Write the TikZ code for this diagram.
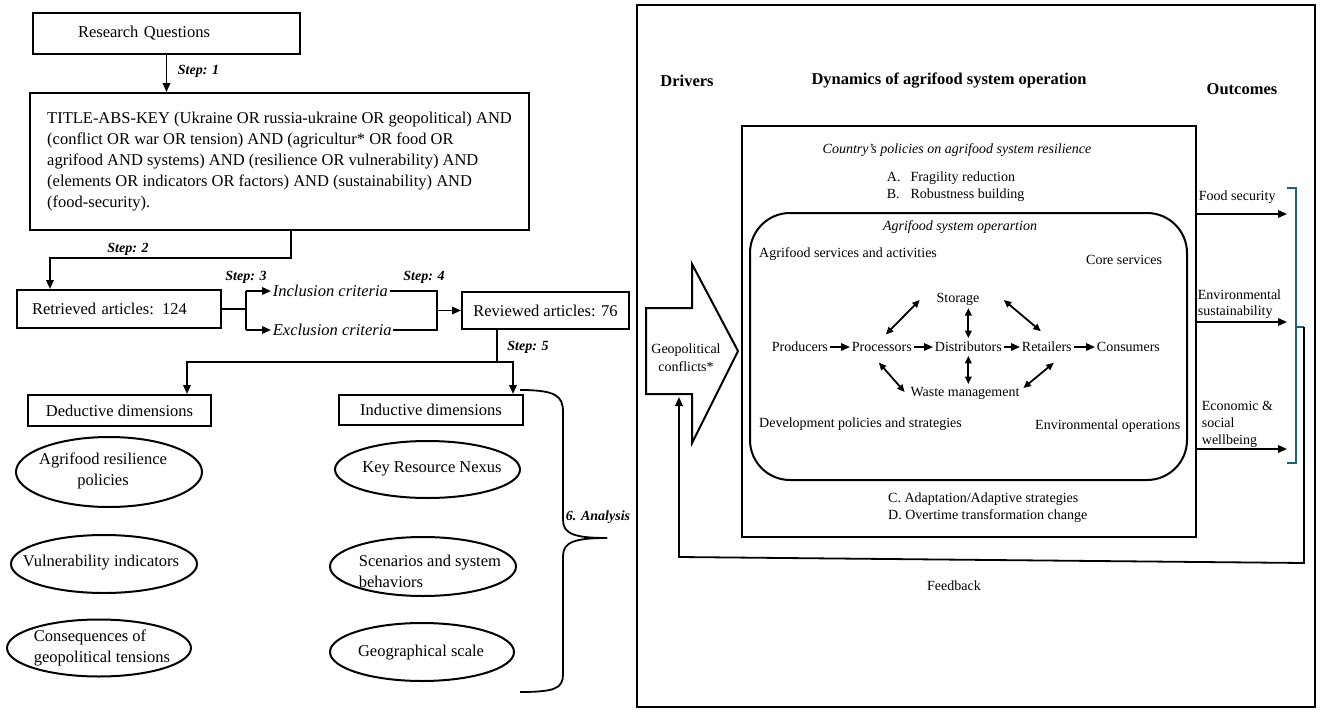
\documentclass[tikz,border=0pt]{standalone}
\usepackage{fontspec}
\setmainfont{Liberation Serif}
\usetikzlibrary{arrows.meta,shapes.geometric,calc}
\definecolor{brk}{RGB}{31,95,130}
\begin{document}
\begin{tikzpicture}[x=1pt,y=-1pt,
  line width=1.8pt,
  arr/.style={-{Triangle[length=9pt,width=7.5pt]}},
  darr/.style={{Triangle[length=7.5pt,width=6.5pt]}-{Triangle[length=7.5pt,width=6.5pt]}},
  box/.style={draw, line width=2pt, inner sep=0pt},
  big/.style={font=\fontsize{16.5}{21}\selectfont},
  crit/.style={font=\fontsize{16.5}{21}\selectfont\itshape, inner sep=1pt, anchor=west},
  sm/.style={font=\fontsize{14}{17}\selectfont},
  smi/.style={font=\fontsize{14}{17}\selectfont\itshape},
  head/.style={font=\fontsize{16.5}{20}\selectfont\bfseries},
  steplbl/.style={font=\fontsize{14}{17}\selectfont\bfseries\itshape, inner sep=1pt},
  ell/.style={draw, ellipse, line width=2pt, inner sep=0pt},
  txt/.style={inner sep=1pt},
]
\useasboundingbox (0,0) rectangle (1325,717);

% ---------------- left flow ----------------
\node[box, big, minimum width=267pt, minimum height=41pt, text width=177pt, inner xsep=45pt, align=left] (rq) at (166.5,33.5) {Research Questions};

\node[box, big, minimum width=499pt, minimum height=137pt, align=left] (title) at (279.5,161.5)
{TITLE-ABS-KEY (Ukraine OR russia-ukraine OR geopolitical) AND\\
(conflict OR war OR tension) AND (agricultur* OR food OR\\
agrifood AND systems) AND (resilience OR vulnerability) AND\\
(elements OR indicators OR factors) AND (sustainability) AND\\
(food-security).};

\draw[arr] (rq.south) -- (rq.south |- title.north);
\node[steplbl, anchor=west] at (176,71) {Step: 1};

\node[box, big, minimum width=204pt, minimum height=38pt, text width=174pt, inner xsep=15pt, align=left] (ret) at (119,309) {Retrieved articles: 124};

\coordinate (s2) at (291,258);
\coordinate (s2b) at (50,258);
\draw[arr] (s2 |- title.south) -- (s2) -- (s2b) -- (s2b |- ret.north);
\node[steplbl] at (128,249) {Step: 2};

\node[crit] (inc) at (271,291) {Inclusion criteria};
\node[crit] (exc) at (271,330) {Exclusion criteria};
\coordinate (j3) at (246,309);
\draw (ret.east) -- (j3);
\draw (j3 |- inc.west) -- (j3 |- exc.west);
\draw[arr] (j3 |- inc.west) -- (inc.west);
\draw[arr] (j3 |- exc.west) -- (exc.west);
\node[steplbl] at (246,277) {Step: 3};

\node[box, big, minimum width=167pt, minimum height=37pt] (rev) at (545.5,310.5) {Reviewed articles: 76};
\coordinate (j4) at (437,310.5);
\draw (inc.east) -| (j4);
\draw (exc.east) -| (j4);
\draw[arr] (j4) -- (rev.west);
\node[steplbl] at (424,277) {Step: 4};

\node[box, big, minimum width=183pt, minimum height=31pt] (ded) at (119.5,410.5) {Deductive dimensions};
\node[box, big, minimum width=184pt, minimum height=30pt] (ind) at (431,410) {Inductive dimensions};

\coordinate (j5) at (497,362);
\coordinate (c5l) at (187,362);
\coordinate (c5r) at (513,362);
\draw (j5 |- rev.south) -- (j5);
\draw[arr] (j5) -- (c5l) -- (c5l |- ded.north);
\draw[arr] (j5) -- (c5r) -- (c5r |- ind.north);
\node[steplbl] at (528,347) {Step: 5};

% ellipses
\node[ell, minimum width=186pt, minimum height=70pt] (e1) at (109,472) {};
\node[big, align=center, txt] at (103,470.5) {Agrifood resilience\\policies};
\node[ell, minimum width=186pt, minimum height=58pt] (e2) at (104,564) {};
\node[big, txt] at (101,563) {Vulnerability indicators};
\node[ell, minimum width=184pt, minimum height=57pt] (e3) at (99,648) {};
\node[big, txt, align=left, anchor=west] at (32,647.5) {Consequences of\\geopolitical tensions};

\node[ell, minimum width=185pt, minimum height=57pt] (r1) at (427.5,469.5) {};
\node[big, txt] at (432,469) {Key Resource Nexus};
\node[ell, minimum width=186pt, minimum height=59pt] (r2) at (423,566.5) {};
\node[big, txt, align=left, anchor=west] at (357,571) {Scenarios and system\\behaviors};
\node[ell, minimum width=184pt, minimum height=58pt] (r3) at (422,652) {};
\node[big, txt] at (421,653) {Geographical scale};

% brace
\draw[line width=1.8pt] (520,390) .. controls (556,390) and (563,396) .. (563,412) -- (563,520) .. controls (563,534) and (575,538) .. (607,538);
\draw[line width=1.8pt] (607,538) .. controls (575,538) and (563,542) .. (563,556) -- (563,674) .. controls (563,688) and (556,692) .. (520,692);
\node[steplbl] at (598,517) {6. Analysis};

% ---------------- right panel ----------------
\node[box, minimum width=678pt, minimum height=702pt] (panel) at (976,356) {};

\node[head] at (687,81) {Drivers};
\node[head] at (949,81) {Dynamics of agrifood system operation};
\node[head] at (1242,89) {Outcomes};

\node[box, minimum width=454pt, minimum height=411pt] (pol) at (969,331.5) {};
\node[box, rounded corners=40pt, minimum width=437pt, minimum height=267pt] (ops) at (968.5,346.5) {};

\node[smi] at (957,150) {Country's policies on agrifood system resilience};
\node[sm, anchor=west, inner sep=0pt] (ab) at (886,186.5) {\begin{tabular}{@{}l@{\hspace{10pt}}l@{}}A. & Fragility reduction\\B. & Robustness building\end{tabular}};
\node[smi] at (960,227) {Agrifood system operartion};

\node[sm, anchor=west] at (755,254) {Agrifood services and activities};
\node[sm, anchor=west] at (1082,260) {Core services};

\node[sm, txt, anchor=west] (prod) at (770,347) {Producers};
\node[sm, txt, anchor=west] (proc) at (850,347) {Processors};
\node[sm, txt, anchor=west] (dist) at (933,347) {Distributors};
\node[sm, txt, anchor=west] (retl) at (1020,347) {Retailers};
\node[sm, txt, anchor=west] (cons) at (1095,347) {Consumers};
\draw[arr] (prod.east) -- (proc.west);
\draw[arr] (proc.east) -- (dist.west);
\draw[arr] (dist.east) -- (retl.west);
\draw[arr] (retl.east) -- (cons.west);

\node[sm, txt] (stor) at (958,299) {Storage};
\node[sm, txt] (waste) at (965,393) {Waste management};

\draw[darr] ([yshift=-1pt]stor.south -| dist.north) -- ([yshift=2pt]dist.north);
\draw[darr] ([yshift=-2pt]dist.south) -- ([yshift=1pt]dist.south |- waste.north);
\draw[darr] ($(proc.north)+(4,-6)$) -- ($(stor.west)+(-15,1)$);
\draw[darr] ($(stor.east)+(22.5,1)$) -- ($(retl.north)+(-6,-9)$);
\draw[darr] ($(proc.south)+(-3,9)$) -- ($(waste.west)+(-4,-1)$);
\draw[darr] ($(retl.south)+(7,9)$) -- ($(waste.east)+(2,-5)$);

\node[sm, anchor=west] at (755,424) {Development policies and strategies};
\node[sm, anchor=west] at (1031,426) {Environmental operations};

\node[sm, anchor=west, align=left] at (884,507.5) {C. Adaptation/Adaptive strategies\\D. Overtime transformation change};

% drivers arrow
\draw[line width=2pt] (646,308) -- (692,308) -- (692,264) -- (738,351) -- (692,443) -- (692,394) -- (646,394) -- cycle;
\node[sm, align=center, font=\fontsize{14}{18}\selectfont] (geo) at (686,358) {Geopolitical\\conflicts*};

% outcomes
\coordinate (o1) at (1287,214);
\coordinate (o2) at (1287,322);
\coordinate (o3) at (1287,449);
\draw[arr] (o1 -| pol.east) -- (o1);
\draw[arr] (o2 -| pol.east) -- (o2);
\draw[arr] (o3 -| pol.east) -- (o3);
\node[sm, anchor=west, txt] at (1197,197) {Food security};
\node[anchor=west, align=left, txt, font=\fontsize{14}{16}\selectfont] at (1196,304) {Environmental\\sustainability};
\node[anchor=west, align=left, txt, font=\fontsize{14}{17}\selectfont] at (1200,424) {Economic \&\\social\\wellbeing};

\draw[brk, line width=1.6pt] (1287,188) -- (1296,188) -- (1296,463) -- (1287,463);
\draw[brk, line width=1.6pt] (1296,327) -- (1304,327);

% feedback
\coordinate (fb0) at (1304,327);
\coordinate (fb1) at (1304,563);
\coordinate (fb2) at (679,557);
\coordinate (fbe) at (679,397);
\draw[arr] (fb0) -- (fb1) -- (fb2) -- (fbe);
\node[sm] at (954,586) {Feedback};
\end{tikzpicture}
\end{document}
